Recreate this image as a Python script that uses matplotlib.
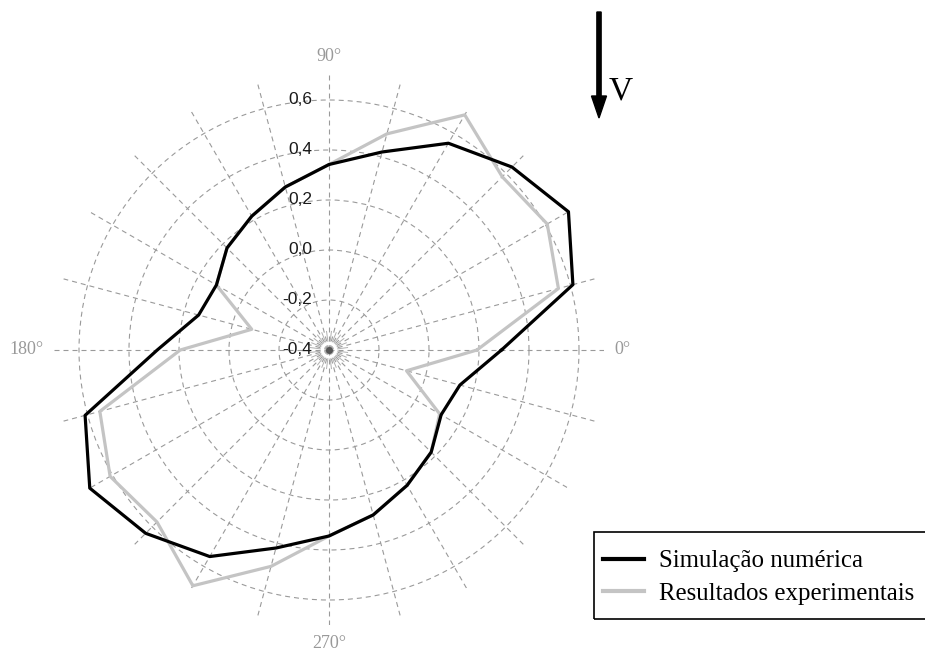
import numpy as np
import matplotlib
matplotlib.use("Agg")
import matplotlib.pyplot as plt
from matplotlib.patches import Rectangle

# angles in degrees, one value every 15 deg
angles_deg = np.arange(0, 360, 15)
simulacao = [0.29, 0.61, 0.706, 0.635, 0.555, 0.42, 0.342, 0.275, 0.218, 0.177, 0.12, 0.14,
             0.287, 0.61, 0.705, 0.637, 0.554, 0.42, 0.344, 0.283, 0.225, 0.178, 0.118, 0.142]
experimental = [0.192, 0.55, 0.608, 0.58, 0.686, 0.495, 0.342, 0.275, 0.218, 0.177, 0.12, -0.08,
                0.195, 0.549, 0.611, 0.573, 0.689, 0.496, 0.344, 0.283, 0.225, 0.178, 0.111, -0.079]
r_ticks = [-0.4, -0.2, 0.0, 0.2, 0.4, 0.6]
r_labels = ["-0,4", "-0,2", "0,0", "0,2", "0,4", "0,6"]
angle_labels = {0: "0°", 90: "90°", 180: "180°", 270: "270°"}
legend_labels = ["Simulação numérica", "Resultados experimentais"]

W, H = 925, 653
fig = plt.figure(figsize=(W / 100, H / 100), dpi=100)
cx, cy, rad = 329, 350, 275
ax = fig.add_axes([(cx - rad) / W, (H - cy - rad) / H, 2 * rad / W, 2 * rad / H], projection="polar")

ax.set_ylim(-0.4, 0.7)
ax.spines["polar"].set_visible(False)
ax.set_thetagrids(angles_deg, labels=[])
ax.set_rgrids(r_ticks[1:], labels=[])
ax.grid(True, color="#9a9a9a", linewidth=0.8, linestyle=(0, (4.5, 3.6)))
ax.tick_params(length=0)

# little rays around the origin
for a in np.arange(7.5, 360, 15):
    t = np.deg2rad(a)
    ax.plot([t, t], [-0.365, -0.325], color="#b0b0b0", lw=0.7)
ax.plot([0], [-0.4], "o", ms=4, color="#555555", zorder=5)

th = np.deg2rad(np.append(angles_deg, 360))
exp_closed = np.append(experimental, experimental[0])
sim_closed = np.append(simulacao, simulacao[0])
ax.plot(th, exp_closed, color="#c4c4c4", lw=2.3, clip_on=False, label=legend_labels[1], zorder=6)
ax.plot(th, sim_closed, color="black", lw=2.3, clip_on=False, label=legend_labels[0], zorder=7)

# radial labels along the 90 deg spoke
for v, lab in zip(r_ticks, r_labels):
    ax.annotate(lab, xy=(np.pi / 2, v), xytext=(-12, 0), textcoords="offset points",
                ha="right", va="center", fontsize=12.5, family="Liberation Sans",
                color="#1a1a1a", annotation_clip=False)

align = {0: ("left", "center"), 90: ("center", "bottom"),
         180: ("right", "center"), 270: ("center", "top")}
for a, lab in angle_labels.items():
    ha, va = align[a]
    ax.text(np.deg2rad(a), 0.74, lab, ha=ha, va=va, fontsize=13,
            family="Liberation Serif", color="#999999")

# flow direction arrow
fig.patches.append(matplotlib.patches.FancyArrow(
    599 / W, 1 - 12 / H, 0, -(106 / H), width=3 / H, head_width=15 / W,
    head_length=22 / H, length_includes_head=True, color="black",
    transform=fig.transFigure, figure=fig))
fig.text(609 / W, 1 - 91 / H, "V", fontsize=24, family="Liberation Serif",
         ha="left", va="center")

handles, labels = ax.get_legend_handles_labels()
order = [labels.index(l) for l in legend_labels]
leg = ax.legend([handles[i] for i in order], [labels[i] for i in order],
                loc="upper left", bbox_to_anchor=(583 / W, 1 - 530 / H),
                bbox_transform=fig.transFigure, frameon=False,
                prop={"family": "Liberation Serif", "size": 17.9},
                handlelength=1.67, handletextpad=0.6, borderpad=0.3,
                labelspacing=0.42)
for ln in leg.get_lines():
    ln.set_linewidth(3)
fig.patches.append(Rectangle((594 / W, 1 - 619 / H), 360 / W, 87 / H,
                             transform=fig.transFigure, fill=False,
                             edgecolor="black", lw=1.2, figure=fig))

fig.savefig("out.png", dpi=100)
